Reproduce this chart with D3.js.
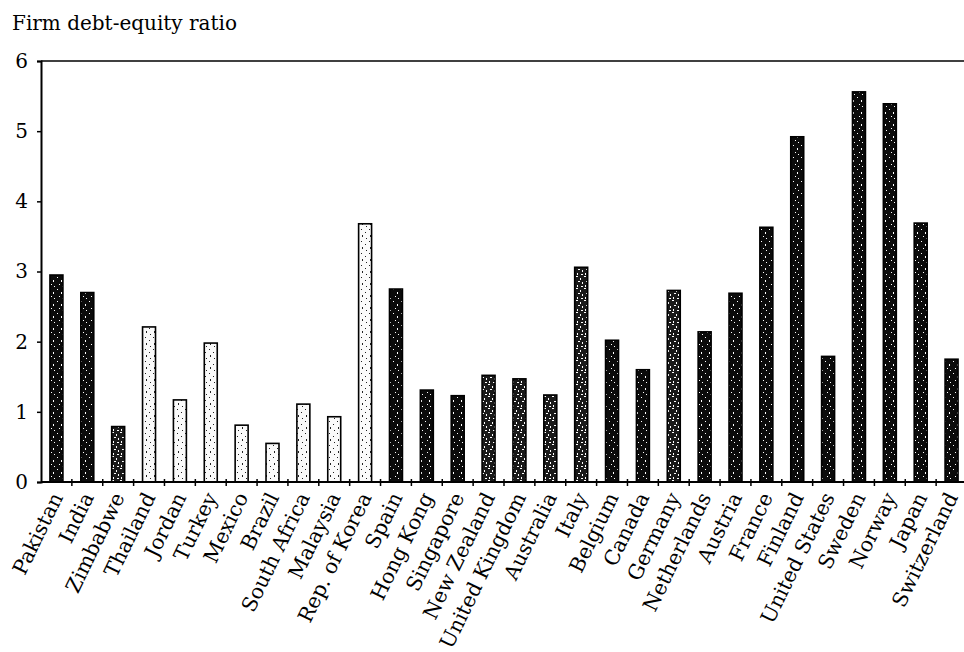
<!DOCTYPE html>
<html>
<head>
<meta charset="utf-8">
<script src="https://cdn.jsdelivr.net/npm/d3@7"></script>
<style>
  html, body { margin: 0; padding: 0; background: #fff; }
  svg { display: block; }
  text { font-family: "DejaVu Serif", "Liberation Serif", serif; fill: #000; }
</style>
</head>
<body>
<svg id="chart" width="964" height="652"></svg>
<script>
// ---- data ----
const countries = ["Pakistan", "India", "Zimbabwe", "Thailand", "Jordan", "Turkey", "Mexico", "Brazil",
  "South Africa", "Malaysia", "Rep. of Korea", "Spain", "Hong Kong", "Singapore", "New Zealand",
  "United Kingdom", "Australia", "Italy", "Belgium", "Canada", "Germany", "Netherlands", "Austria",
  "France", "Finland", "United States", "Sweden", "Norway", "Japan", "Switzerland"];
const debtEquity = [2.95, 2.70, 0.79, 2.21, 1.17, 1.98, 0.81, 0.55, 1.11, 0.93, 3.68, 2.75, 1.31, 1.23,
  1.52, 1.47, 1.24, 3.06, 2.02, 1.60, 2.73, 2.14, 2.69, 3.63, 4.92, 1.79, 5.56, 5.39, 3.69, 1.75];
const yTicks = [0, 1, 2, 3, 4, 5, 6];
const yTitle = "Firm debt-equity ratio";
// bar shading (style)
const barTone = ["dark", "dark", "mid", "light", "light", "light", "light", "light", "light", "light",
  "light", "dark", "dark", "dark", "mid", "mid", "mid", "mid", "dark", "dark", "mid", "dark", "dark",
  "dark", "dark", "dark", "dark", "dark", "dark", "dark"];

const svg = d3.select("#chart");
const mLeft = 41, mRight = 967, mTop = 61, mBottom = 482;

const x = d3.scaleBand().domain(countries).range([mLeft, mRight])
  .paddingInner(0.58).paddingOuter(0.29);
const y = d3.scaleLinear().domain([0, 6]).range([mBottom, mTop]);

// patterns
const defs = svg.append("defs");
function makePattern(id, bg, fg, dots) {
  const p = defs.append("pattern").attr("id", id).attr("patternUnits", "userSpaceOnUse")
    .attr("width", 8).attr("height", 12);
  p.append("rect").attr("width", 8).attr("height", 12).attr("fill", bg);
  dots.forEach(d => p.append("rect").attr("x", d[0]).attr("y", d[1])
    .attr("width", d[2]).attr("height", d[3]).attr("fill", fg));
}
makePattern("dark", "#0b0b0b", "#fff", [[1, 1, 1, 1], [5, 4, 1, 2], [3, 8, 1, 1], [6, 10, 1, 1]]);
makePattern("mid", "#1a1a1a", "#fff", [[0, 0, 2, 1], [4, 2, 1, 2], [2, 5, 2, 1], [6, 6, 1, 2], [1, 9, 1, 2], [5, 10, 2, 1]]);
makePattern("light", "#fafafa", "#222", [[1, 1, 1, 1], [5, 4, 1, 1], [2, 7, 1, 2], [6, 10, 1, 1]]);

// title
svg.append("text").attr("x", 12).attr("y", 30).attr("font-size", 20).text(yTitle);

// bars
svg.append("g").selectAll("rect").data(countries).join("rect")
  .attr("x", d => x(d))
  .attr("width", x.bandwidth())
  .attr("y", (d, i) => y(debtEquity[i]))
  .attr("height", (d, i) => y(0) - y(debtEquity[i]))
  .attr("fill", (d, i) => `url(#${barTone[i]})`)
  .attr("stroke", "#000").attr("stroke-width", 1.6);

// top frame line
svg.append("line").attr("x1", mLeft).attr("x2", 964).attr("y1", mTop).attr("y2", mTop)
  .attr("stroke", "#000").attr("stroke-width", 1.6);

// y axis
const yAxis = svg.append("g").attr("transform", `translate(${mLeft},0)`)
  .call(d3.axisLeft(y).tickValues(yTicks).tickSize(4).tickPadding(9).tickFormat(d3.format("d")));
yAxis.select(".domain").attr("stroke", "#000").attr("stroke-width", 2);
yAxis.selectAll(".tick line").attr("stroke", "#000").attr("stroke-width", 1.5);
yAxis.selectAll(".tick text").attr("font-size", 20)
  .attr("font-family", "DejaVu Serif, serif");

// x axis line with boundary ticks
const step = x.step();
const boundaries = d3.range(1, countries.length + 1).map(k => mLeft + k * step);
svg.append("line").attr("x1", mLeft).attr("x2", 964).attr("y1", mBottom).attr("y2", mBottom)
  .attr("stroke", "#000").attr("stroke-width", 2);
svg.append("g").selectAll("line").data(boundaries).join("line")
  .attr("x1", d => d).attr("x2", d => d).attr("y1", mBottom - 3).attr("y2", mBottom + 4)
  .attr("stroke", "#000").attr("stroke-width", 1.5);

// x labels
svg.append("g").selectAll("text").data(countries).join("text")
  .attr("transform", d => `translate(${x(d) + x.bandwidth() / 2 + 7},${mBottom + 15}) rotate(-64)`)
  .attr("text-anchor", "end")
  .attr("font-size", 20.5)
  .text(d => d);
</script>
</body>
</html>
